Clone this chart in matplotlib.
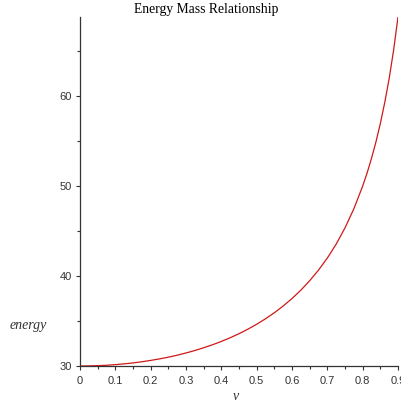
import matplotlib
matplotlib.use("Agg")
import matplotlib.pyplot as plt
from matplotlib.ticker import MultipleLocator

v = [0.0, 0.025, 0.05, 0.075, 0.1, 0.125, 0.15, 0.175, 0.2, 0.225, 0.25, 0.275,
     0.3, 0.325, 0.35, 0.375, 0.4, 0.425, 0.45, 0.475, 0.5, 0.525, 0.55, 0.575,
     0.6, 0.625, 0.65, 0.675, 0.7, 0.725, 0.75, 0.775, 0.8, 0.8125, 0.825, 0.8375,
     0.85, 0.8625, 0.875, 0.8875, 0.9]
energy = [30.0, 30.01, 30.04, 30.08, 30.15, 30.24, 30.34, 30.47, 30.62, 30.79, 30.98, 31.2,
          31.45, 31.72, 32.03, 32.36, 32.73, 33.14, 33.59, 34.09, 34.64, 35.25, 35.92, 36.67,
          37.5, 38.43, 39.48, 40.66, 42.0, 43.55, 45.36, 47.47, 50.0, 51.45, 53.08, 54.9,
          56.95, 59.3, 61.96, 65.1, 68.8]

x_ticks = [0, 0.1, 0.2, 0.3, 0.4, 0.5, 0.6, 0.7, 0.8, 0.9]
x_labels = ["0", "0.1", "0.2", "0.3", "0.4", "0.5", "0.6", "0.7", "0.8", "0.9"]
y_ticks = [30, 40, 50, 60]
y_labels = ["30", "40", "50", "60"]

W, H = 401, 403
fig = plt.figure(figsize=(W / 100, H / 100), dpi=100)
ax = fig.add_axes([80 / W, 37 / H, 318 / W, 349 / H])
ax.plot(v, energy, color="#d01818", lw=0.9)
ax.set_xlim(0, 0.9)
ax.set_ylim(30, 68.8)
for s in ["top", "right"]:
    ax.spines[s].set_visible(False)
for s in ["left", "bottom"]:
    ax.spines[s].set_linewidth(0.9)
    ax.spines[s].set_color("#333333")
ax.set_xticks(x_ticks)
ax.set_xticklabels(x_labels)
ax.set_yticks(y_ticks)
ax.set_yticklabels(y_labels)
ax.xaxis.set_minor_locator(MultipleLocator(0.05))
ax.yaxis.set_minor_locator(MultipleLocator(5))
ax.tick_params(which="both", direction="out", length=3, width=0.8,
               labelsize=8, colors="#333333")
ax.tick_params(axis="x", pad=4)
ax.tick_params(axis="y", pad=3)
ax.tick_params(which="minor", length=2)
for lab in ax.get_xticklabels() + ax.get_yticklabels():
    lab.set_family("Liberation Sans")
fig.text(206 / W, 1 - 10 / H, "Energy Mass Relationship", family="Liberation Serif",
         fontsize=9.8, ha="center", va="center")
fig.text(28 / W, 1 - 325 / H, "energy", family="Liberation Serif", style="italic",
         fontsize=10, ha="center", va="center", color="#333333")
fig.text(236 / W, 1 - 396 / H, "v", family="Liberation Serif", style="italic",
         fontsize=10, ha="center", va="center", color="#333333")
fig.savefig("out.png", dpi=100)
